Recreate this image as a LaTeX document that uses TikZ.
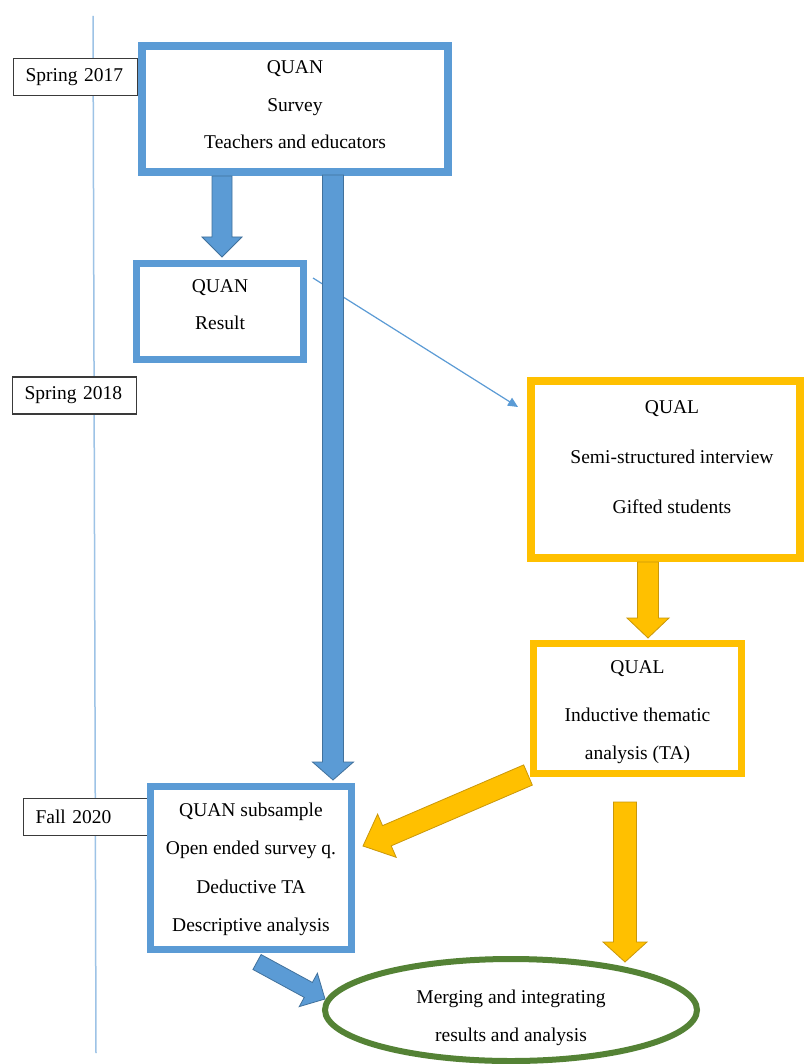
\documentclass[tikz,border=0pt]{standalone}
\usepackage{fontspec}
\setmainfont{Liberation Serif}
\usetikzlibrary{calc,shapes.geometric,arrows.meta}
\definecolor{qblue}{HTML}{5B9BD5}
\definecolor{qblueD}{HTML}{41719C}
\definecolor{qorange}{HTML}{FFC000}
\definecolor{qorangeD}{HTML}{C9970A}
\definecolor{qgreen}{HTML}{548235}
\definecolor{tline}{HTML}{9DC3E6}
\definecolor{lblbord}{HTML}{3A3A3A}

% #1 style, #2 start, #3 tip, #4 half shaft, #5 half head, #6 head length
\newcommand\blockarrow[6]{%
  \coordinate (ba-h) at ($(#3)!#6!(#2)$);
  \path[#1] ($(#2)!#4!90:(#3)$) -- ($(ba-h)!#4!-90:(#2)$) -- ($(ba-h)!#5!-90:(#2)$)
    -- (#3) -- ($(ba-h)!#5!90:(#2)$) -- ($(ba-h)!#4!90:(#2)$) -- ($(#2)!#4!-90:(#3)$) -- cycle;
}

\tikzset{
  bbox/.style={rectangle, draw=qblue, line width=7pt, fill=white, inner sep=0pt},
  obox/.style={rectangle, draw=qorange, line width=7pt, fill=white, inner sep=0pt},
  lbox/.style={rectangle, draw=lblbord, line width=1.5pt, fill=white, text width=100pt,
    align=left, inner xsep=12pt, inner ysep=0pt, minimum height=37pt,
    font=\fontsize{19.5}{23}\selectfont},
  txt/.style={font=\fontsize{19.5}{37.5}\selectfont, align=center, anchor=base, inner sep=0pt},
  barrow/.style={fill=qblue, draw=qblueD, line width=0.8pt, line join=miter},
  oarrow/.style={fill=qorange, draw=qorangeD, line width=0.8pt, line join=miter},
}

\begin{document}
\begin{tikzpicture}[x=1pt,y=-1pt]
\useasboundingbox (0,0) rectangle (805,1064);
\fill[white] (0,0) rectangle (805,1064);

% timeline
\coordinate (vtop) at (93,16);
\coordinate (vbot) at (96,1053);
\draw[tline, line width=1.5pt] (vtop) -- (vbot);

% time labels
\node[lbox] (s17) at (75.5,77) {Spring 2017};
\node[lbox] (s18) at (74.5,395.5) {Spring 2018};
\node[lbox] (f20) at (85.5,817) {Fall 2020};

% boxes
\node[bbox, line width=8pt, minimum width=306pt, minimum height=126pt] (top) at (295,109) {};
\node[bbox, minimum width=167pt, minimum height=96pt] (res) at (220,311.5) {};
\node[obox, line width=8pt, minimum width=269pt, minimum height=177pt] (qual1) at (665.5,469.5) {};
\node[obox, minimum width=208pt, minimum height=130pt] (qual2) at (637.5,708.5) {};
\node[bbox, minimum width=201pt, minimum height=163pt] (sub) at (251,868) {};
\node[ellipse, draw=qgreen, line width=6pt, fill=white, minimum width=372pt,
      minimum height=102pt, inner sep=0pt] (ell) at (511,1010) {};

% thin arrow
\coordinate (ths) at ($(res.east)+(6,-33.5)$);
\coordinate (the) at ($(qual1.west)+(-9,-62.5)$);
\draw[qblue, line width=1.2pt, -{Triangle[length=10pt,width=9pt]}] (ths) -- (the);

% block arrows
\coordinate (a1s) at ($(top.south)+(-73,0)$);
\coordinate (a1e) at ($(a1s |- res.north)+(0,-3)$);
\blockarrow{barrow}{a1s}{a1e}{10pt}{20pt}{20pt}

\coordinate (a2s) at ($(top.south)+(38,-1)$);
\coordinate (a2e) at ($(a2s |- sub.north)+(0,-3)$);
\blockarrow{barrow}{a2s}{a2e}{10.5pt}{20.5pt}{18pt}

\coordinate (a3s) at ($(qual1.south)+(-17.5,0)$);
\coordinate (a3e) at ($(a3s |- qual2.north)+(0,-2)$);
\blockarrow{oarrow}{a3s}{a3e}{10.5pt}{21pt}{20pt}

\coordinate (a4s) at ($(qual2.south west)+(-2,-2)$);
\coordinate (a4e) at ($(sub.east)+(8,-22)$);
\blockarrow{oarrow}{a4s}{a4e}{11pt}{23.5pt}{26pt}

\coordinate (a5s) at ($(qual2.south)+(-12.5,25)$);
\coordinate (a5e) at ($(a5s |- ell.north)+(0,6)$);
\blockarrow{oarrow}{a5s}{a5e}{11.5pt}{22pt}{20pt}

\coordinate (a6s) at ($(sub.south)+(6,9)$);
\coordinate (a6e) at ($(ell.west)+(3,-11)$);
\blockarrow{barrow}{a6s}{a6e}{8.5pt}{19pt}{19pt}

% texts (anchor=base is the baseline of the last line)
\node[txt] (t-top) at (295,149) {QUAN\\Survey\\Teachers and educators};
\node[txt, font=\fontsize{19.5}{36}\selectfont] (t-res) at (220,329) {QUAN\\Result};
\node[txt, font=\fontsize{19.5}{50}\selectfont] (t-q1) at (672,513) {QUAL\\Semi-structured interview\\Gifted students};
\node[txt, font=\fontsize{19.5}{38}\selectfont] (t-q2) at (637.5,759) {QUAL\\[10pt]Inductive thematic\\analysis (TA)};
\node[txt, font=\fontsize{19.5}{38.5}\selectfont] (t-sub) at (251,931.5) {QUAN subsample\\Open ended survey q.\\Deductive TA\\Descriptive analysis};
\node[txt, font=\fontsize{19.5}{38}\selectfont] (t-ell) at (511,1041) {Merging and integrating\\results and analysis};
\end{tikzpicture}
\end{document}
